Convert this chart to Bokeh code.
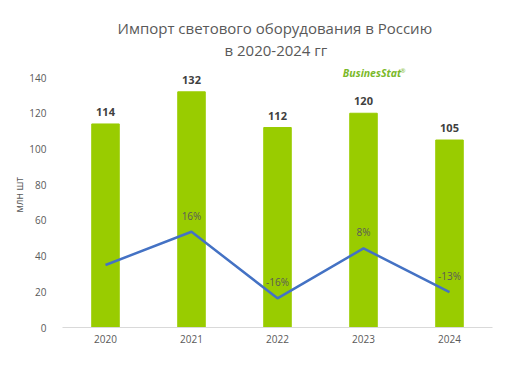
from bokeh.plotting import figure
from bokeh.models import (FactorRange, Range1d, ColumnDataSource, LabelSet, Label,
                          Title, FixedTicker)
from bokeh.core.properties import value
from bokeh.embed import file_html
from bokeh.resources import INLINE

years = ["2020", "2021", "2022", "2023", "2024"]
values = [114, 132, 112, 120, 105]
growth = [0, 16, -16, 8, -13]
growth_labels = ["", "16%", "-16%", "8%", "-13%"]
y_ticks = [0, 20, 40, 60, 80, 100, 120, 140]

FONT = "Open Sans"
GREY = "#595959"

src = ColumnDataSource(dict(year=years, value=values, vlabel=[str(v) for v in values],
                            growth=growth, glabel=growth_labels))

p = figure(x_range=FactorRange(*years, range_padding=0), y_range=Range1d(0, 150.1),
           width=512, height=352, output_backend="svg", toolbar_location=None,
           min_border_left=62, min_border_right=20, min_border_top=59, min_border_bottom=25)
p.extra_y_ranges = {"pct": Range1d(-30, 98.7)}

p.vbar(x="year", top="value", width=0.32, color="#99cc00", source=src)
p.line(x="year", y="growth", source=src, color="#4472c4", line_width=2.5, y_range_name="pct")

p.add_layout(LabelSet(x="year", y="value", text="vlabel", source=src, text_align="center",
                      text_baseline="middle", y_offset=12, text_font=value(FONT),
                      text_font_size="11px", text_font_style="bold", text_color="#404040"))
p.add_layout(LabelSet(x="year", y="growth", text="glabel", source=src, text_align="center",
                      text_baseline="middle", y_offset=16, text_font=value(FONT),
                      text_font_size="10px", text_color=GREY, y_range_name="pct"))

p.add_layout(Label(x=3.60, y=142.5, text="BusinesStat", text_align="center", text_baseline="middle",
                   text_font=FONT, text_font_size="10.5px", text_font_style="bold italic",
                   text_color="#7ab929"))
p.add_layout(Label(x=3.60, y=143.5, x_offset=31, text="®", text_align="center",
                   text_baseline="middle", text_font=FONT, text_font_size="6px",
                   text_color="#7ab929"))

p.add_layout(Title(text="в 2020-2024 гг", align="left", text_font=FONT, text_font_size="15px",
                   text_font_style="normal", text_color=GREY, standoff=0, offset=162), "above")
p.add_layout(Title(text="Импорт светового оборудования в Россию", align="left", text_font=FONT,
                   text_font_size="15px", text_font_style="normal", text_color=GREY, standoff=0,
                   offset=55), "above")

p.xgrid.grid_line_color = None
p.ygrid.grid_line_color = None
p.outline_line_color = None

p.yaxis.ticker = FixedTicker(ticks=y_ticks)
p.yaxis.axis_line_color = None
p.yaxis.major_tick_line_color = None
p.yaxis.major_tick_out = 0
p.yaxis.major_tick_in = 0
p.yaxis.minor_tick_line_color = None
p.yaxis.major_label_standoff = 16
p.yaxis.major_label_text_font = FONT
p.yaxis.major_label_text_font_size = "10px"
p.yaxis.major_label_text_color = GREY
p.yaxis.axis_label = "млн  шт"
p.yaxis.axis_label_text_font = FONT
p.yaxis.axis_label_text_font_size = "10px"
p.yaxis.axis_label_text_font_style = "normal"
p.yaxis.axis_label_text_color = GREY
p.yaxis.axis_label_standoff = 0

p.xaxis.axis_line_color = "#d9d9d9"
p.xaxis.major_tick_line_color = None
p.xaxis.minor_tick_line_color = None
p.xaxis.major_label_standoff = 1
p.xaxis.major_label_text_font = FONT
p.xaxis.major_label_text_font_size = "10px"
p.xaxis.major_label_text_color = GREY

open("out.html", "w").write(file_html(p, INLINE))
